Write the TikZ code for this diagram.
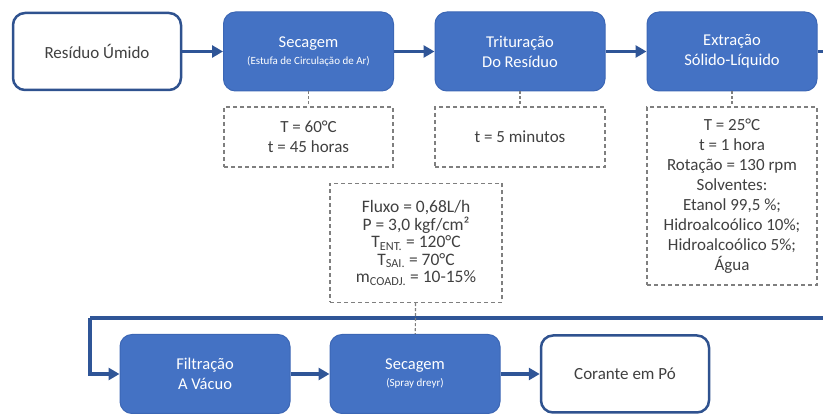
\documentclass[tikz,border=0pt]{standalone}
\usepackage{fontspec}
\setmainfont{Carlito}
\usetikzlibrary{positioning, arrows.meta}
\definecolor{procblue}{HTML}{4472C4}
\definecolor{procline}{HTML}{3C67B5}
\definecolor{endline}{HTML}{2F528F}
\definecolor{arrowblue}{HTML}{2F5597}
\definecolor{dashgray}{HTML}{7F7F7F}
\definecolor{txtgray}{HTML}{404040}
\tikzset{proc/.style={draw=procline,fill=procblue,line width=1pt,rounded corners=12pt,minimum width=170pt,minimum height=79pt,inner sep=0pt,text=white,align=center,font=\fontsize{16.5}{20}\selectfont},
         ends/.style={draw=endline,fill=white,line width=2.5pt,rounded corners=12pt,minimum width=168pt,minimum height=77pt,inner sep=0pt,text=txtgray,align=center,font=\fontsize{17}{20}\selectfont},
         cond/.style={draw=dashgray,dash pattern=on 4pt off 3pt,line width=1.2pt,inner sep=0pt,text=txtgray,align=center,font=\fontsize{17}{20}\selectfont},
         flow/.style={draw=arrowblue,line width=3.5pt,-{Triangle[length=11pt,width=12pt]}},
         link/.style={draw=dashgray,line width=1.2pt,dash pattern=on 3pt off 2pt},
        }

\begin{document}
\begin{tikzpicture}[x=1pt,y=-1pt]
        \clip(0,0)rectangle(823,414);

        \node[ends](resid)at(97,51.5){Resíduo Úmido};
        \node[proc](sec)at(308.5,51.5){Secagem\\[-3pt]{\fontsize{11}{13}\selectfont(Estufa de Circulação de Ar)}};
        \node[proc](trit)at(520,51.5){Trituração\\Do Resíduo};
        \node[proc](extr)at(732,51.5){Extração\\Sólido-Líquido};

        \node[cond, minimum width=169pt, minimum height=60pt](csec)at(308.5,137){T = 60°C\\t = 45 horas};
        \node[cond, minimum width=170pt, minimum height=60pt](ctrit)at(520,137){t = 5 minutos};
        \node[cond, minimum width=170pt, minimum height=178pt](cextr)at(732,196){T = 25°C\\t = 1 hora\\Rotação = 130 rpm\\Solventes:\\Etanol 99,5 \%;\\Hidroalcoólico 10\%;\\Hidroalcoólico 5\%;\\Água};
        \node[cond, minimum width=172pt, minimum height=119pt, font=\fontsize{17.5}{17.5}\selectfont](cspray)at(416,243){Fluxo = 0,68L/h\\P = 3,0 kgf/cm²\\T\textsubscript{ENT.} = 120°C\\T\textsubscript{SAI.} = 70°C\\m\textsubscript{COADJ.} = 10-15\%};

        \node[proc](filt)at(205,374){Filtração\\A Vácuo};
        \node[proc](spray)at(415,374){Secagem\\[-3pt]{\fontsize{11}{13}\selectfont(Spray dreyr)}};
        \node[ends](cor)at(625,374){Corante em Pó};

        \coordinate(loopR)at(845,318);
        \coordinate(loopL)at(90,318);

        \draw[flow](resid)--(sec);
        \draw[flow](sec)--(trit);
        \draw[flow](trit)--(extr);
        \draw[flow,-](extr.east)-|(loopR)--(loopL);
        \draw[flow](loopL)|-(filt.west);
        \draw[flow](filt)--(spray);
        \draw[flow](spray)--(cor);

        \draw[link](sec)--(csec);
        \draw[link](trit)--(ctrit);
        \draw[link](extr)--(cextr);
        \draw[link](cspray)--(spray);
    \end{tikzpicture}
\end{document}
